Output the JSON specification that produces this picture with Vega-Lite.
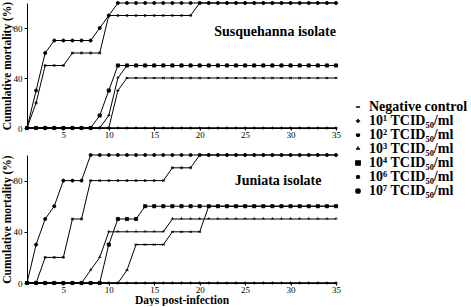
{
  "$schema": "https://vega.github.io/schema/vega-lite/v6.json",
  "padding": {"left": 0, "top": -1, "right": 0, "bottom": 0},
  "background": "white",
  "data": {"values": [
    {"iso":"S","day":1,"nc":0,"d1":0,"d2":0,"d3":0,"d4":0,"d6":0,"d7":0},
    {"iso":"S","day":2,"nc":0,"d1":0,"d2":0,"d3":0,"d4":0,"d6":20,"d7":30},
    {"iso":"S","day":3,"nc":0,"d1":0,"d2":0,"d3":0,"d4":0,"d6":50,"d7":60},
    {"iso":"S","day":4,"nc":0,"d1":0,"d2":0,"d3":0,"d4":0,"d6":50,"d7":70},
    {"iso":"S","day":5,"nc":0,"d1":0,"d2":0,"d3":0,"d4":0,"d6":50,"d7":70},
    {"iso":"S","day":6,"nc":0,"d1":0,"d2":0,"d3":0,"d4":0,"d6":60,"d7":70},
    {"iso":"S","day":7,"nc":0,"d1":0,"d2":0,"d3":0,"d4":0,"d6":60,"d7":70},
    {"iso":"S","day":8,"nc":0,"d1":0,"d2":0,"d3":0,"d4":0,"d6":60,"d7":70},
    {"iso":"S","day":9,"nc":0,"d1":0,"d2":0,"d3":0,"d4":10,"d6":60,"d7":80},
    {"iso":"S","day":10,"nc":0,"d1":0,"d2":0,"d3":10,"d4":30,"d6":90,"d7":90},
    {"iso":"S","day":11,"nc":0,"d1":0,"d2":30,"d3":40,"d4":50,"d6":90,"d7":100},
    {"iso":"S","day":12,"nc":0,"d1":0,"d2":40,"d3":50,"d4":50,"d6":90,"d7":100},
    {"iso":"S","day":13,"nc":0,"d1":0,"d2":40,"d3":50,"d4":50,"d6":90,"d7":100},
    {"iso":"S","day":14,"nc":0,"d1":0,"d2":40,"d3":50,"d4":50,"d6":90,"d7":100},
    {"iso":"S","day":15,"nc":0,"d1":0,"d2":40,"d3":50,"d4":50,"d6":90,"d7":100},
    {"iso":"S","day":16,"nc":0,"d1":0,"d2":40,"d3":50,"d4":50,"d6":90,"d7":100},
    {"iso":"S","day":17,"nc":0,"d1":0,"d2":40,"d3":50,"d4":50,"d6":90,"d7":100},
    {"iso":"S","day":18,"nc":0,"d1":0,"d2":40,"d3":50,"d4":50,"d6":90,"d7":100},
    {"iso":"S","day":19,"nc":0,"d1":0,"d2":40,"d3":50,"d4":50,"d6":90,"d7":100},
    {"iso":"S","day":20,"nc":0,"d1":0,"d2":40,"d3":50,"d4":50,"d6":100,"d7":100},
    {"iso":"S","day":21,"nc":0,"d1":0,"d2":40,"d3":50,"d4":50,"d6":100,"d7":100},
    {"iso":"S","day":22,"nc":0,"d1":0,"d2":40,"d3":50,"d4":50,"d6":100,"d7":100},
    {"iso":"S","day":23,"nc":0,"d1":0,"d2":40,"d3":50,"d4":50,"d6":100,"d7":100},
    {"iso":"S","day":24,"nc":0,"d1":0,"d2":40,"d3":50,"d4":50,"d6":100,"d7":100},
    {"iso":"S","day":25,"nc":0,"d1":0,"d2":40,"d3":50,"d4":50,"d6":100,"d7":100},
    {"iso":"S","day":26,"nc":0,"d1":0,"d2":40,"d3":50,"d4":50,"d6":100,"d7":100},
    {"iso":"S","day":27,"nc":0,"d1":0,"d2":40,"d3":50,"d4":50,"d6":100,"d7":100},
    {"iso":"S","day":28,"nc":0,"d1":0,"d2":40,"d3":50,"d4":50,"d6":100,"d7":100},
    {"iso":"S","day":29,"nc":0,"d1":0,"d2":40,"d3":50,"d4":50,"d6":100,"d7":100},
    {"iso":"S","day":30,"nc":0,"d1":0,"d2":40,"d3":50,"d4":50,"d6":100,"d7":100},
    {"iso":"S","day":31,"nc":0,"d1":0,"d2":40,"d3":50,"d4":50,"d6":100,"d7":100},
    {"iso":"S","day":32,"nc":0,"d1":0,"d2":40,"d3":50,"d4":50,"d6":100,"d7":100},
    {"iso":"S","day":33,"nc":0,"d1":0,"d2":40,"d3":50,"d4":50,"d6":100,"d7":100},
    {"iso":"S","day":34,"nc":0,"d1":0,"d2":40,"d3":50,"d4":50,"d6":100,"d7":100},
    {"iso":"S","day":35,"nc":0,"d1":0,"d2":40,"d3":50,"d4":50,"d6":100,"d7":100},
    {"iso":"J","day":1,"nc":0,"d1":0,"d2":0,"d3":0,"d4":0,"d6":0,"d7":0},
    {"iso":"J","day":2,"nc":0,"d1":0,"d2":0,"d3":0,"d4":0,"d6":0,"d7":30},
    {"iso":"J","day":3,"nc":0,"d1":0,"d2":0,"d3":0,"d4":0,"d6":20,"d7":50},
    {"iso":"J","day":4,"nc":0,"d1":0,"d2":0,"d3":0,"d4":0,"d6":20,"d7":60},
    {"iso":"J","day":5,"nc":0,"d1":0,"d2":0,"d3":0,"d4":0,"d6":20,"d7":80},
    {"iso":"J","day":6,"nc":0,"d1":0,"d2":0,"d3":0,"d4":0,"d6":50,"d7":80},
    {"iso":"J","day":7,"nc":0,"d1":0,"d2":0,"d3":0,"d4":0,"d6":50,"d7":80},
    {"iso":"J","day":8,"nc":0,"d1":0,"d2":0,"d3":10,"d4":0,"d6":80,"d7":100},
    {"iso":"J","day":9,"nc":0,"d1":0,"d2":0,"d3":20,"d4":0,"d6":80,"d7":100},
    {"iso":"J","day":10,"nc":0,"d1":0,"d2":0,"d3":40,"d4":30,"d6":80,"d7":100},
    {"iso":"J","day":11,"nc":0,"d1":0,"d2":0,"d3":40,"d4":50,"d6":80,"d7":100},
    {"iso":"J","day":12,"nc":0,"d1":0,"d2":10,"d3":40,"d4":50,"d6":80,"d7":100},
    {"iso":"J","day":13,"nc":0,"d1":0,"d2":30,"d3":40,"d4":50,"d6":80,"d7":100},
    {"iso":"J","day":14,"nc":0,"d1":0,"d2":30,"d3":40,"d4":60,"d6":80,"d7":100},
    {"iso":"J","day":15,"nc":0,"d1":0,"d2":30,"d3":40,"d4":60,"d6":80,"d7":100},
    {"iso":"J","day":16,"nc":0,"d1":0,"d2":30,"d3":40,"d4":60,"d6":80,"d7":100},
    {"iso":"J","day":17,"nc":0,"d1":0,"d2":40,"d3":50,"d4":60,"d6":90,"d7":100},
    {"iso":"J","day":18,"nc":0,"d1":0,"d2":40,"d3":50,"d4":60,"d6":90,"d7":100},
    {"iso":"J","day":19,"nc":0,"d1":0,"d2":40,"d3":50,"d4":60,"d6":90,"d7":100},
    {"iso":"J","day":20,"nc":0,"d1":0,"d2":40,"d3":50,"d4":60,"d6":100,"d7":100},
    {"iso":"J","day":21,"nc":0,"d1":0,"d2":60,"d3":50,"d4":60,"d6":100,"d7":100},
    {"iso":"J","day":22,"nc":0,"d1":0,"d2":60,"d3":50,"d4":60,"d6":100,"d7":100},
    {"iso":"J","day":23,"nc":0,"d1":0,"d2":60,"d3":50,"d4":60,"d6":100,"d7":100},
    {"iso":"J","day":24,"nc":0,"d1":0,"d2":60,"d3":50,"d4":60,"d6":100,"d7":100},
    {"iso":"J","day":25,"nc":0,"d1":0,"d2":60,"d3":50,"d4":60,"d6":100,"d7":100},
    {"iso":"J","day":26,"nc":0,"d1":0,"d2":60,"d3":50,"d4":60,"d6":100,"d7":100},
    {"iso":"J","day":27,"nc":0,"d1":0,"d2":60,"d3":50,"d4":60,"d6":100,"d7":100},
    {"iso":"J","day":28,"nc":0,"d1":0,"d2":60,"d3":50,"d4":60,"d6":100,"d7":100},
    {"iso":"J","day":29,"nc":0,"d1":0,"d2":60,"d3":50,"d4":60,"d6":100,"d7":100},
    {"iso":"J","day":30,"nc":0,"d1":0,"d2":60,"d3":50,"d4":60,"d6":100,"d7":100},
    {"iso":"J","day":31,"nc":0,"d1":0,"d2":60,"d3":50,"d4":60,"d6":100,"d7":100},
    {"iso":"J","day":32,"nc":0,"d1":0,"d2":60,"d3":50,"d4":60,"d6":100,"d7":100},
    {"iso":"J","day":33,"nc":0,"d1":0,"d2":60,"d3":50,"d4":60,"d6":100,"d7":100},
    {"iso":"J","day":34,"nc":0,"d1":0,"d2":60,"d3":50,"d4":60,"d6":100,"d7":100},
    {"iso":"J","day":35,"nc":0,"d1":0,"d2":60,"d3":50,"d4":60,"d6":100,"d7":100}
  ]},
  "spacing": 12,
  "vconcat": [
    {
      "width": 309,
      "height": 125,
      "layer": [
        {
          "transform": [
            {"filter": "datum.iso === 'S'"},
            {"fold": ["nc","d1","d2","d3","d4","d6","d7"], "as": ["dose","mort"]}
          ],
          "layer": [
            {
              "mark": {"type": "line", "color": "black", "strokeWidth": 1},
              "encoding": {
                "x": {"field": "day", "type": "quantitative", "scale": {"domain": [1,35], "nice": false}, "axis": {"title": null, "values": [5,10,15,20,25,30,35]}},
                "y": {"field": "mort", "type": "quantitative", "scale": {"domain": [0,100]}, "axis": {"title": "Cumulative mortality (%)", "values": [0,20,40,60,80,100]}},
                "detail": {"field": "dose"}
              }
            },
            {
              "mark": {"type": "point", "filled": true, "color": "black", "stroke": "black", "strokeWidth": 0.8, "size": 10, "opacity": 1},
              "encoding": {
                "x": {"field": "day", "type": "quantitative"},
                "y": {"field": "mort", "type": "quantitative"},
                "shape": {
                  "field": "dose", "type": "nominal",
                  "scale": {"domain": ["nc","d1","d2","d3","d4","d6","d7"], "range": ["M-1,0H1", "M-1,0H1M0,-1V1", "M-1,0H1M-0.7,-0.7L0.7,0.7M-0.7,0.7L0.7,-0.7", "M-1,0H1M0,-1.2V0", "square", "M-1,0H1M-0.4,-0.9V0.9M0.4,-0.9V0.9", "circle"]},
                  "legend": {
                    "labelExpr": "datum.label == 'nc' ? 'Negative control' : datum.label == 'd1' ? '10¹ TCID₅₀/ml' : datum.label == 'd2' ? '10² TCID₅₀/ml' : datum.label == 'd3' ? '10³ TCID₅₀/ml' : datum.label == 'd4' ? '10⁴ TCID₅₀/ml' : datum.label == 'd6' ? '10⁶ TCID₅₀/ml' : '10⁷ TCID₅₀/ml'",
                    "encode": {"symbols": {"update": {"stroke": {"value": "black"}, "strokeWidth": {"value": 1.2}, "fill": {"value": "black"}, "opacity": {"value": 1}}}}
                  }
                }
              }
            }
          ]
        },
        {
          "data": {"values": [{"label": "Susquehanna isolate", "day": 35, "mort": 77}]},
          "mark": {"type": "text", "align": "right", "baseline": "middle", "fontSize": 14, "fontWeight": "bold", "font": "Liberation Serif"},
          "encoding": {
            "x": {"field": "day", "type": "quantitative"},
            "y": {"field": "mort", "type": "quantitative"},
            "text": {"field": "label"}
          }
        }
      ]
    },
    {
      "width": 309,
      "height": 128,
      "layer": [
        {
          "transform": [
            {"filter": "datum.iso === 'J'"},
            {"fold": ["nc","d1","d2","d3","d4","d6","d7"], "as": ["dose","mort"]}
          ],
          "layer": [
            {
              "mark": {"type": "line", "color": "black", "strokeWidth": 1},
              "encoding": {
                "x": {"field": "day", "type": "quantitative", "scale": {"domain": [1,35], "nice": false}, "axis": {"title": "Days post-infection", "values": [5,10,15,20,25,30,35]}},
                "y": {"field": "mort", "type": "quantitative", "scale": {"domain": [0,100]}, "axis": {"title": "Cumulative mortality (%)", "values": [0,20,40,60,80,100]}},
                "detail": {"field": "dose"}
              }
            },
            {
              "mark": {"type": "point", "filled": true, "color": "black", "stroke": "black", "strokeWidth": 0.8, "size": 10, "opacity": 1},
              "encoding": {
                "x": {"field": "day", "type": "quantitative"},
                "y": {"field": "mort", "type": "quantitative"},
                "shape": {"field": "dose", "type": "nominal"}
              }
            }
          ]
        },
        {
          "data": {"values": [{"label": "Juniata isolate", "day": 33.4, "mort": 79.5}]},
          "mark": {"type": "text", "align": "right", "baseline": "middle", "fontSize": 14, "fontWeight": "bold", "font": "Liberation Serif"},
          "encoding": {
            "x": {"field": "day", "type": "quantitative"},
            "y": {"field": "mort", "type": "quantitative"},
            "text": {"field": "label"}
          }
        }
      ]
    }
  ],
  "resolve": {"scale": {"shape": "shared"}, "legend": {"shape": "shared"}},
  "config": {
    "font": "Liberation Serif",
    "view": {"stroke": null},
    "axis": {
      "grid": false,
      "domainColor": "black",
      "domainWidth": 1,
      "tickColor": "black",
      "labelColor": "black",
      "labelFontSize": 9,
      "labelFont": "Liberation Serif",
      "labelFlush": false,
      "labelOverlap": false,
      "titleColor": "black",
      "titleFont": "Liberation Serif",
      "titleFontWeight": "bold",
      "titleFontSize": 11.5
    },
    "axisY": {"tickSize": 3, "labelPadding": 2, "titlePadding": 1},
    "axisX": {"tickSize": 2, "labelPadding": 0, "titlePadding": 0},
    "legend": {
      "orient": "none",
      "legendX": 324,
      "legendY": 97,
      "title": null,
      "labelFont": "Liberation Serif",
      "labelFontSize": 14,
      "labelFontWeight": "bold",
      "labelColor": "black",
      "rowPadding": -2,
      "symbolSize": 18,
      "labelOffset": 4
    }
  }
}
